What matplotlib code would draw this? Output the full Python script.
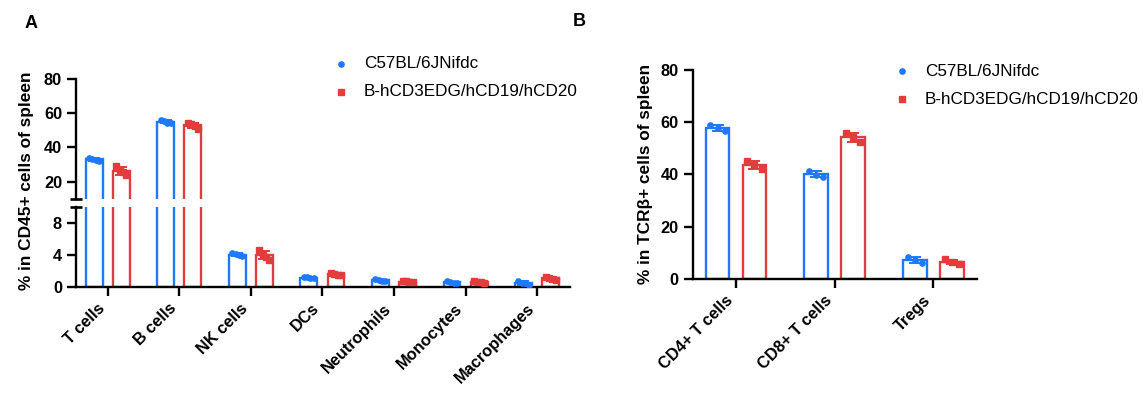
import numpy as np
import matplotlib
matplotlib.use('Agg')
import matplotlib.pyplot as plt
from matplotlib.lines import Line2D

plt.rc('font', family=['Liberation Sans', 'DejaVu Sans'], weight='bold', size=11)

BLUE = '#1f78ff'
RED = '#e23c3c'

groups = ['C57BL/6JNifdc', 'B-hCD3EDG/hCD19/hCD20']

# panel A: % in CD45+ cells of spleen
cells_a = ['T cells', 'B cells', 'NK cells', 'DCs', 'Neutrophils', 'Monocytes', 'Macrophages']
wt_a = [[33.8, 33.2, 32.7, 32.3],
        [56.3, 55.2, 54.5, 54.0],
        [4.3, 4.1, 4.0, 3.85],
        [1.3, 1.2, 1.15, 1.1],
        [0.95, 0.85, 0.8, 0.7],
        [0.7, 0.6, 0.55, 0.5],
        [0.75, 0.55, 0.45, 0.25]]
ko_a = [[29.3, 26.6, 25.5, 24.0],
        [54.5, 53.5, 52.6, 50.8],
        [4.6, 4.0, 3.8, 3.4],
        [1.8, 1.65, 1.55, 1.5],
        [0.8, 0.7, 0.65, 0.6],
        [0.8, 0.65, 0.6, 0.55],
        [1.3, 1.15, 1.05, 0.9]]

# panel B: % in TCRb+ cells of spleen
cells_b = ['CD4+ T cells', 'CD8+ T cells', 'Tregs']
wt_b = [[58.8, 57.8, 56.5],
        [41.3, 39.9, 38.9],
        [8.4, 7.2, 6.1]]
ko_b = [[45.0, 43.4, 42.0],
        [56.0, 54.2, 52.3],
        [7.4, 6.3, 5.6]]

W, H = 1143, 399
fig = plt.figure(figsize=(W / 100, H / 100), dpi=100)


def fx(px):
    return px / W


def fy(px):
    return 1 - px / H


def style_axis(ax):
    for s in ['top', 'right']:
        ax.spines[s].set_visible(False)
    for s in ['left', 'bottom']:
        ax.spines[s].set_linewidth(1.7)
    ax.tick_params(width=1.7, length=6.5, labelsize=11.8)


def draw_bars(ax, wt, ko, off=0.19, width=0.235):
    x = np.arange(len(wt))
    for vals, col, sgn, mk in [(wt, BLUE, -1, 'o'), (ko, RED, 1, 's')]:
        means = np.array([np.mean(v) for v in vals])
        sds = np.array([np.std(v, ddof=1) for v in vals])
        pos = x + sgn * off
        ax.bar(pos, means, width=width, color='white', edgecolor=col, linewidth=1.7, zorder=2)
        ax.errorbar(pos, means, yerr=sds, fmt='none', ecolor=col, elinewidth=1.4,
                    capsize=4.5, capthick=1.4, zorder=3)
        for p, v in zip(pos, vals):
            jit = np.linspace(-width * 0.3, width * 0.3, len(v))
            ax.plot(p + jit, v, ls='none', marker=mk, ms=3.8, color=col, zorder=4)


# ---- panel A (broken y axis) ----
left_a, right_a = 76, 570
ax_lo = fig.add_axes([fx(left_a), fy(287), fx(right_a - left_a), (287 - 207) / H])
ax_hi = fig.add_axes([fx(left_a), fy(198.8), fx(right_a - left_a), (198.8 - 79) / H])
for ax in (ax_lo, ax_hi):
    style_axis(ax)
    draw_bars(ax, wt_a, ko_a)
    ax.set_xlim(-0.443, 6.46)
ax_lo.set_ylim(0, 10)
ax_lo.set_yticks([0, 4, 8])
ax_lo.set_xticks(np.arange(len(cells_a)))
ax_lo.set_xticklabels(cells_a, rotation=45, ha='right', rotation_mode='default')
ax_hi.set_ylim(10, 80)
ax_hi.set_yticks([20, 40, 60, 80])
ax_hi.spines['bottom'].set_visible(False)
ax_hi.set_xticks([])
# break marks
ax_lo.plot([0], [1], marker='_', ms=8, mew=1.9, color='black', transform=ax_lo.transAxes, clip_on=False)
ax_hi.plot([0], [0], marker='_', ms=8, mew=1.9, color='black', transform=ax_hi.transAxes, clip_on=False)

fig.text(fx(27), fy(181), '% in CD45+ cells of spleen', rotation=90, ha='center', va='center',
         fontsize=12.4, fontweight='bold')
fig.text(fx(31), fy(23), 'A', ha='center', va='center', fontsize=13, fontweight='bold')

# ---- panel B ----
left_b, right_b = 692.7, 976.7
ax_b = fig.add_axes([fx(left_b), fy(278.7), fx(right_b - left_b), (278.7 - 70) / H])
style_axis(ax_b)
draw_bars(ax_b, wt_b, ko_b, off=0.187, width=0.24)
ax_b.set_xlim(-0.439, 2.44)
ax_b.set_ylim(0, 80)
ax_b.set_yticks([0, 20, 40, 60, 80])
ax_b.set_xticks(np.arange(len(cells_b)))
ax_b.set_xticklabels(cells_b, rotation=45, ha='right')

fig.text(fx(646), fy(174), '% in TCR\u03b2+ cells of spleen', rotation=90, ha='center', va='center',
         fontsize=12.4, fontweight='bold')
fig.text(fx(579), fy(22), 'B', ha='center', va='center', fontsize=13, fontweight='bold')

# legends
for (mx, tx, y1, y2) in [(341, 364, 64, 92), (901.7, 925, 71, 99)]:
    for name, col, mk, yy in [(groups[0], BLUE, 'o', y1), (groups[1], RED, 's', y2)]:
        fig.add_artist(Line2D([fx(mx)], [fy(yy)], marker=mk, ms=3.8, color=col, ls='none',
                              transform=fig.transFigure))
        fig.text(fx(tx), fy(yy), name, ha='left', va='center', fontsize=12.3, fontweight='normal')

fig.savefig('out.png', dpi=100)
